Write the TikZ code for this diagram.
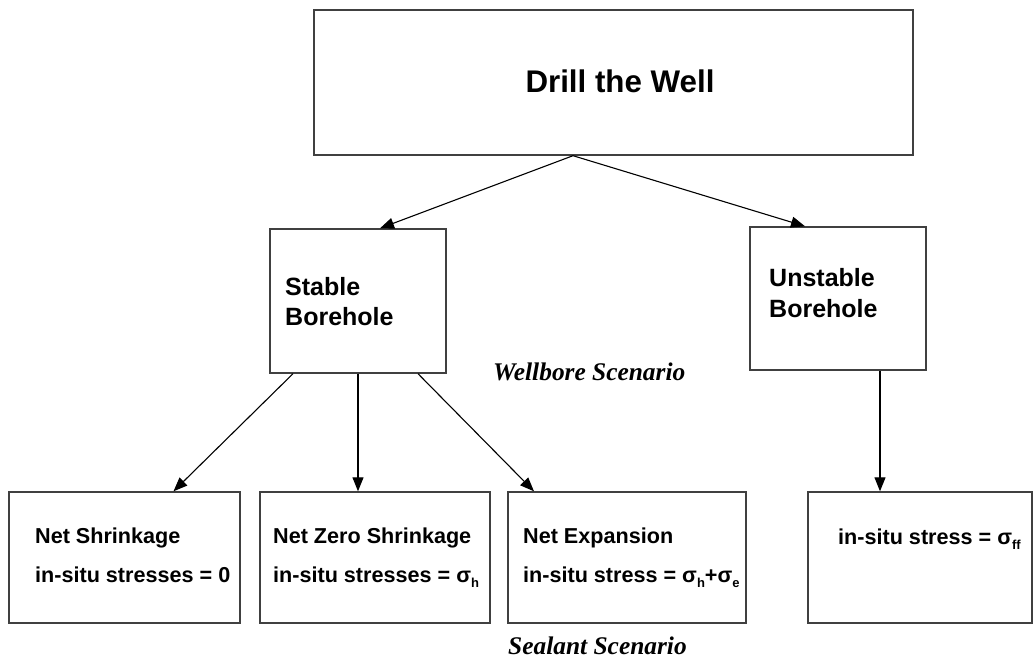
\documentclass[tikz,border=0pt]{standalone}
\usepackage{fontspec}
\setmainfont{Liberation Sans}
\newfontfamily\timesfont{Liberation Serif}
\usetikzlibrary{arrows.meta}
\tikzset{
  box/.style={draw=black!75, line width=1.4pt, fill=white, inner sep=0pt},
  arr/.style={draw=black, line width=1.1pt, -{Triangle[length=14pt,width=11pt]}},
  lbl/.style={anchor=base west, inner sep=0pt, font=\bfseries\fontsize{21.6}{24}\selectfont},
  mid/.style={anchor=base west, inner sep=0pt, font=\bfseries\fontsize{25}{30}\selectfont},
  scen/.style={anchor=base west, inner sep=0pt, font=\timesfont\bfseries\itshape\fontsize{25.4}{30}\selectfont}
}
\newcommand{\sg}[1]{σ\raisebox{-0.25em}{\fontsize{13}{14}\selectfont #1}}
\begin{document}
\begin{tikzpicture}[x=1pt,y=-1pt]
\useasboundingbox (0,0) rectangle (1033,660);
% boxes
\node[box, minimum width=599pt, minimum height=145pt] (top) at (613.5,82.5) {};
\node[box, minimum width=176pt, minimum height=144pt] (stable) at (358,301) {};
\node[box, minimum width=176pt, minimum height=143pt] (unstable) at (838,298.5) {};
\node[box, minimum width=231pt, minimum height=131pt] (b1) at (124.5,557.5) {};
\node[box, minimum width=230pt, minimum height=131pt] (b2) at (375,557.5) {};
\node[box, minimum width=238pt, minimum height=131pt] (b3) at (627,557.5) {};
\node[box, minimum width=224pt, minimum height=131pt] (b4) at (920,557.5) {};
% texts
\node[anchor=base, inner sep=0pt, font=\bfseries\fontsize{31.3}{36}\selectfont] (t0) at (620,93) {Drill the Well};
\node[mid] (t1) at (285,295) {Stable};
\node[mid] (t2) at (285,325) {Borehole};
\node[mid] (t3) at (769,287) {Unstable};
\node[mid] (t4) at (769,317) {Borehole};
\node[lbl] (a1) at (35,543) {Net Shrinkage};
\node[lbl] (a2) at (35,582) {in-situ stresses = 0};
\node[lbl] (c1) at (273,543) {Net Zero Shrinkage};
\node[lbl] (c2) at (273,582) {in-situ stresses = \sg{h}};
\node[lbl] (d1) at (523,543) {Net Expansion};
\node[lbl] (d2) at (523,582) {in-situ stress = \sg{h}+\sg{e}};
\node[lbl] (e1) at (838,544) {in-situ stress = \sg{ff}};
\node[scen] (w) at (493,380) {Wellbore Scenario};
\node[scen] (s) at (508,654) {Sealant Scenario};
% connectors
\draw[arr] ([xshift=-40.5pt]top.south) -- ([xshift=22pt]stable.north);
\draw[arr] ([xshift=-40.5pt]top.south) -- ([xshift=-33pt]unstable.north);
\draw[arr] ([xshift=-65pt]stable.south) -- ([xshift=49pt]b1.north);
\draw[arr] (stable.south) -- ([xshift=-17pt]b2.north);
\draw[arr] ([xshift=60pt]stable.south) -- ([xshift=-93pt]b3.north);
\draw[arr] ([xshift=42pt]unstable.south) -- ([xshift=-40pt]b4.north);
\end{tikzpicture}
\end{document}
